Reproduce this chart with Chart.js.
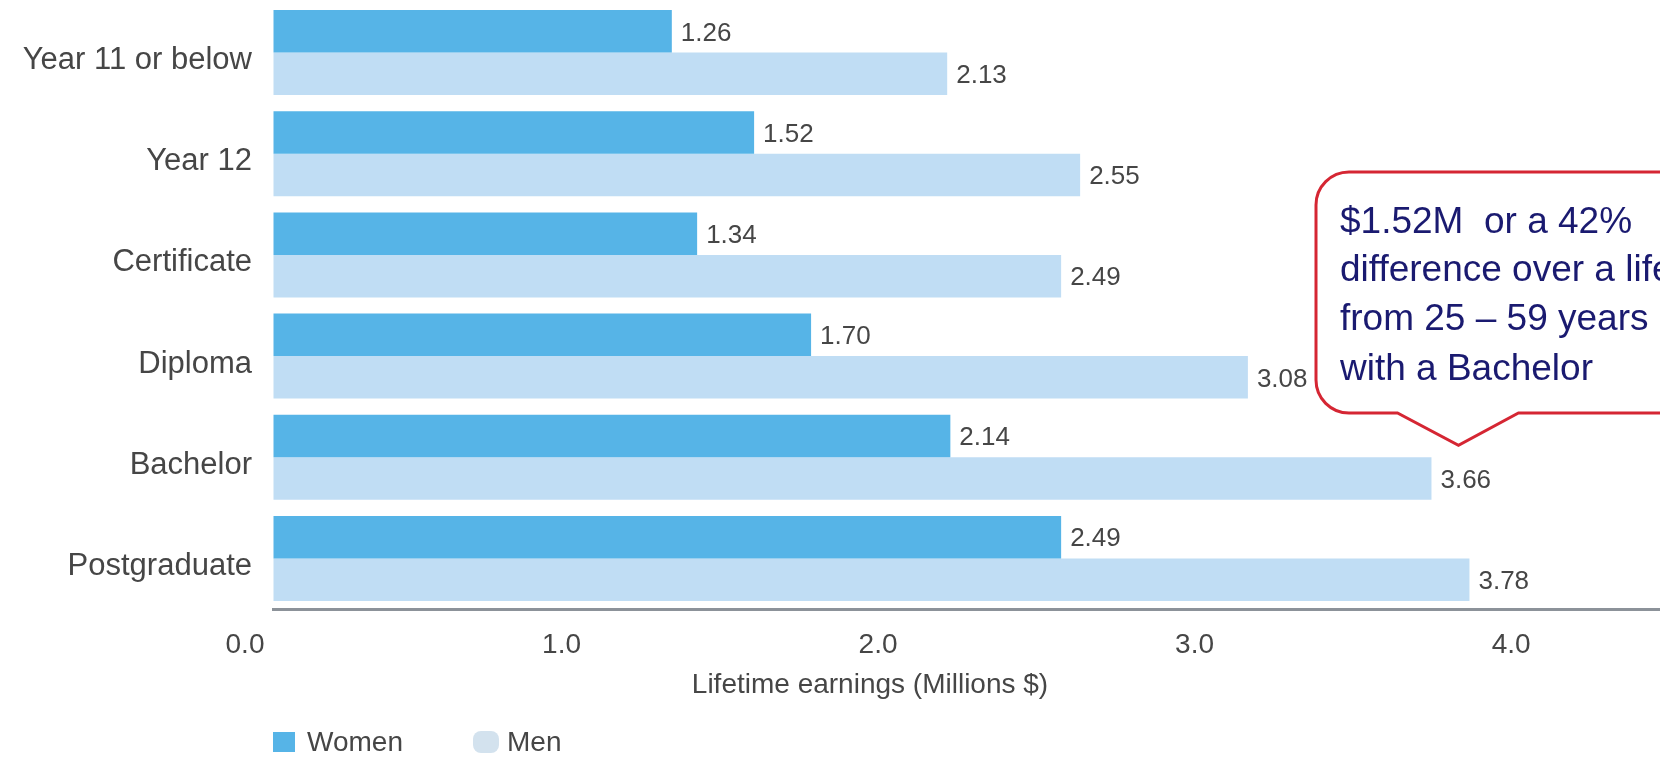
<!DOCTYPE html>
<html>
<head>
<meta charset="utf-8">
<script src="https://cdn.jsdelivr.net/npm/chart.js@4/dist/chart.umd.min.js"></script>
<style>
  html, body { margin: 0; padding: 0; background: #fff; overflow: hidden; }
  #wrap { width: 1660px; height: 762px; position: relative; }
</style>
</head>
<body>
<div id="wrap"><canvas id="earnChart"></canvas></div>
<script>
// ---------------- data ----------------
const categories = ["Year 11 or below", "Year 12", "Certificate", "Diploma", "Bachelor", "Postgraduate"];
const women = [1.26, 1.52, 1.34, 1.70, 2.14, 2.49];
const men = [2.13, 2.55, 2.49, 3.08, 3.66, 3.78];
const xTicks = [0, 1, 2, 3, 4];
const axisTitle = "Lifetime earnings (Millions $)";
const calloutLines = ["$1.52M  or a 42%", "difference over a lifetime", "from 25 \u2013 59 years", "with a Bachelor"];

const WOMEN_COLOR = '#56b4e7';
const MEN_COLOR = '#c0ddf4';
const TEXT_COLOR = '#464646';
const FONT = '"Liberation Sans", Arial, sans-serif';

// value labels at the end of each bar
const valueLabels = {
  id: 'valueLabels',
  afterDatasetsDraw(chart) {
    const ctx = chart.ctx;
    ctx.save();
    ctx.font = '26px ' + FONT;
    ctx.fillStyle = TEXT_COLOR;
    ctx.textAlign = 'left';
    ctx.textBaseline = 'middle';
    chart.data.datasets.forEach((ds, i) => {
      chart.getDatasetMeta(i).data.forEach((bar, j) => {
        ctx.fillText(ds.data[j].toFixed(2), bar.x + 9, bar.y + 2);
      });
    });
    ctx.restore();
  }
};

// axis title, legend and the callout box
const extras = {
  id: 'extras',
  afterDraw(chart) {
    const ctx = chart.ctx;
    ctx.save();

    // axis title
    ctx.font = '28px ' + FONT;
    ctx.fillStyle = TEXT_COLOR;
    ctx.textAlign = 'center';
    ctx.textBaseline = 'middle';
    ctx.fillText(axisTitle, 870, 685);

    // legend
    ctx.textAlign = 'left';
    ctx.fillStyle = WOMEN_COLOR;
    ctx.fillRect(273, 732, 22, 20);
    ctx.fillStyle = '#d3e2ee';
    ctx.beginPath();
    ctx.roundRect(473, 731, 26, 22, 8);
    ctx.fill();
    ctx.fillStyle = TEXT_COLOR;
    ctx.fillText(chart.data.datasets[0].label, 307, 743);
    ctx.fillText(chart.data.datasets[1].label, 507, 743);

    // callout pointing at the Bachelor / Men bar
    const bar = chart.getDatasetMeta(1).data[4];
    const tipX = bar.x + 27, tipY = bar.y - bar.height / 2 - 12;
    const left = 1316, top = 172, bottom = 413, right = 1720, r = 33;
    ctx.beginPath();
    ctx.moveTo(left + r, top);
    ctx.lineTo(right, top);
    ctx.lineTo(right, bottom);
    ctx.lineTo(tipX + 60, bottom);
    ctx.lineTo(tipX, tipY);
    ctx.lineTo(tipX - 61, bottom);
    ctx.lineTo(left + r, bottom);
    ctx.arcTo(left, bottom, left, bottom - r, r);
    ctx.lineTo(left, top + r);
    ctx.arcTo(left, top, left + r, top, r);
    ctx.closePath();
    ctx.fillStyle = '#ffffff';
    ctx.fill();
    ctx.lineWidth = 3;
    ctx.strokeStyle = '#d52633';
    ctx.stroke();

    ctx.font = '37px ' + FONT;
    ctx.fillStyle = '#1a1a70';
    ctx.textBaseline = 'alphabetic';
    const baselines = [233, 281, 330, 380];
    calloutLines.forEach((t, i) => ctx.fillText(t, 1340, baselines[i]));

    ctx.restore();
  }
};

const ctx = document.getElementById('earnChart').getContext('2d');
const earnChart = new Chart(ctx, {
  type: 'bar',
  data: {
    labels: categories,
    datasets: [
      {
        label: 'Women',
        data: women,
        backgroundColor: WOMEN_COLOR,
        borderWidth: 0,
        barPercentage: 1.0,
        categoryPercentage: 0.84
      },
      {
        label: 'Men',
        data: men,
        backgroundColor: MEN_COLOR,
        borderWidth: 0,
        barPercentage: 1.0,
        categoryPercentage: 0.84
      }
    ]
  },
  options: {
    indexAxis: 'y',
    responsive: true,
    maintainAspectRatio: false,
    animation: false,
    layout: { padding: { top: 2, left: 0, right: 0, bottom: 0 } },
    plugins: {
      legend: { display: false },
      tooltip: { enabled: false }
    },
    scales: {
      x: {
        min: 0,
        max: 4.382,
        afterFit(scale) {
          scale.height = 153;
          scale.paddingLeft = 0;
          scale.paddingRight = 0;
        },
        afterBuildTicks(scale) { scale.ticks = xTicks.map(v => ({ value: v })); },
        grid: { display: true, drawOnChartArea: false, drawTicks: false, color: 'transparent' },
        border: { display: true, color: '#8c9299', width: 3 },
        ticks: {
          padding: 19,
          labelOffset: -28,
          color: TEXT_COLOR,
          font: { family: FONT, size: 28 },
          callback: v => Number(v).toFixed(1)
        }
      },
      y: {
        afterFit(scale) {
          scale.width = 273;
          scale.paddingTop = 0;
          scale.paddingBottom = 0;
        },
        grid: { display: false, drawTicks: false },
        border: { display: false },
        ticks: {
          padding: 21,
          labelOffset: 8,
          color: TEXT_COLOR,
          font: { family: FONT, size: 31 }
        }
      }
    }
  },
  plugins: [valueLabels, extras]
});
</script>
</body>
</html>
